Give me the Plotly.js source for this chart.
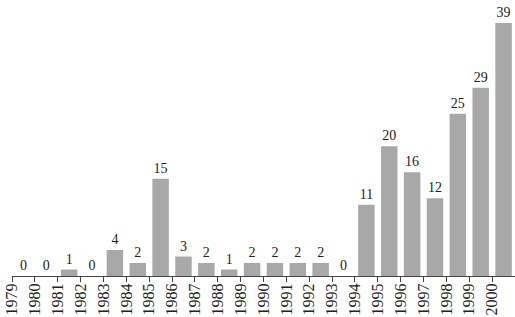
<!DOCTYPE html>
<html>
<head>
<meta charset="utf-8">
<script src="https://cdn.plot.ly/plotly-3.0.1.min.js"></script>
<style>html,body{margin:0;padding:0;background:#fff;}#chart{width:515px;height:317px;}</style>
</head>
<body>
<div id="chart"></div>
<script>
const years = [1979,1980,1981,1982,1983,1984,1985,1986,1987,1988,1989,1990,1991,1992,1993,1994,1995,1996,1997,1998,1999,2000];
const counts = [0,0,1,0,4,2,15,3,2,1,2,2,2,2,0,11,20,16,12,25,29,39];
const tickLabels = years.map(String);

const xPos = years.map(y => y + 0.5);
const tickVals = years.concat([years[years.length-1] + 1]);
const tickText = tickLabels.concat(['']);

const trace = {
  type: 'bar',
  x: xPos,
  y: counts,
  width: 0.72,
  marker: {color: '#a8a8a8'},
  text: counts.map(String),
  textposition: 'outside',
  textfont: {family: '"Liberation Serif", "Times New Roman", serif', size: 14, color: '#222'},
  constraintext: 'none',
  cliponaxis: false,
  hoverinfo: 'none'
};

const layout = {
  width: 515, height: 317,
  margin: {l: 12, r: 0, t: 10, b: 41},
  paper_bgcolor: '#fff', plot_bgcolor: '#fff',
  showlegend: false,
  font: {family: '"Liberation Serif", "Times New Roman", serif', color: '#222'},
  xaxis: {
    range: [years[0], years[years.length-1] + 1],
    tickmode: 'array', tickvals: tickVals, ticktext: tickText,
    tickangle: -90,
    ticks: 'outside', ticklen: 5, tickcolor: '#444', tickwidth: 1,
    ticklabelstandoff: -5,
    showline: true, linecolor: '#444', linewidth: 1,
    showgrid: false, zeroline: false,
    tickfont: {family: '"Liberation Serif", "Times New Roman", serif', size: 16, color: '#222'}
  },
  yaxis: {
    range: [0, 41], visible: false, showgrid: false, zeroline: false
  }
};

Plotly.newPlot('chart', [trace], layout, {staticPlot: true, displayModeBar: false});
</script>
</body>
</html>
